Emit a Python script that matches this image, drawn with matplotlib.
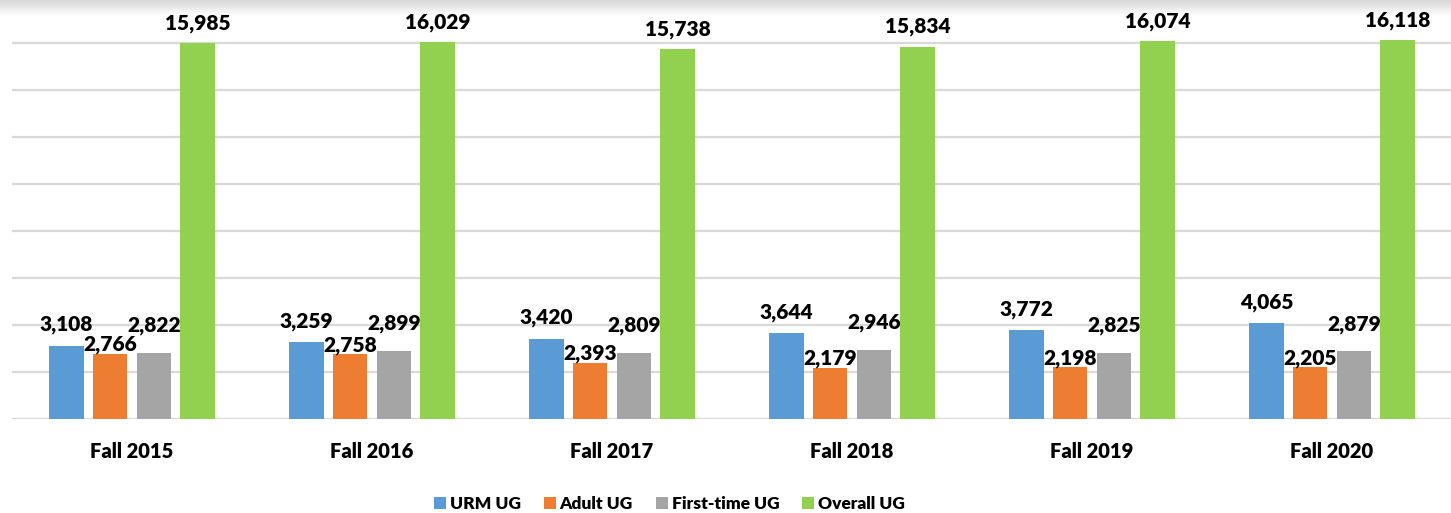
import numpy as np
import matplotlib.pyplot as plt

plt.rcParams['font.family'] = ['Lato', 'DejaVu Sans']
plt.rcParams['font.weight'] = 'heavy'

years = ['Fall 2015', 'Fall 2016', 'Fall 2017', 'Fall 2018', 'Fall 2019', 'Fall 2020']
series = ['URM UG', 'Adult UG', 'First-time UG', 'Overall UG']
urm = [3108, 3259, 3420, 3644, 3772, 4065]
adult = [2766, 2758, 2393, 2179, 2198, 2205]
first_time = [2822, 2899, 2809, 2946, 2825, 2879]
overall = [15985, 16029, 15738, 15834, 16074, 16118]

colors = ['#5B9BD5', '#ED7D31', '#A5A5A5', '#92D050']
# label offset above bar top (pixels), the labels were nudged by hand in the original
lab_off = [21, 9, 27, 20]

fig = plt.figure(figsize=(14.51, 5.13), dpi=100)

# grey shadow at the top edge
sh = fig.add_axes([0, 1 - 16/513, 1, 16/513])
grad = np.linspace(0.84, 1.0, 50).reshape(-1, 1)
sh.imshow(grad, cmap='gray', vmin=0, vmax=1, aspect='auto', extent=[0, 1, 0, 1])
sh.axis('off')

ax = fig.add_axes([12/1451, 94/513, 1440/1451, 419/513])
ax.patch.set_alpha(0)

x = np.arange(len(years))
step = 0.182
w = 0.142
data = [urm, adult, first_time, overall]
for i, vals in enumerate(data):
    xs = x + (i - 1.5) * step
    ax.bar(xs, vals, w, color=colors[i], label=series[i], zorder=3)
    for xx, v in zip(xs, vals):
        ax.annotate(f'{v:,}', (xx, v), xytext=(0, lab_off[i] * 0.72),
                    textcoords='offset points', ha='center', va='center',
                    fontsize=15, fontweight='heavy', zorder=5)

ax.set_xlim(-0.5, 5.5)
ax.set_ylim(0, 16000 * 419 / 376)
ax.set_yticks(np.arange(0, 16001, 2000))
ax.yaxis.grid(True, color='#D9D9D9', linewidth=1.6, zorder=0)
ax.tick_params(axis='y', left=False, labelleft=False)
ax.tick_params(axis='x', bottom=False, pad=13)
ax.set_xticks(x)
ax.set_xticklabels(years, fontsize=14.5, fontweight='heavy')
for s in ax.spines.values():
    s.set_visible(False)

fig.legend(loc='center', bbox_to_anchor=(0.4614, 0.018), ncol=4, frameon=False,
           prop={'size': 12.5, 'weight': 'heavy'}, handlelength=0.69,
           handleheight=0.69, handletextpad=0.23, columnspacing=1.32)

plt.savefig('out.png', dpi=100)
